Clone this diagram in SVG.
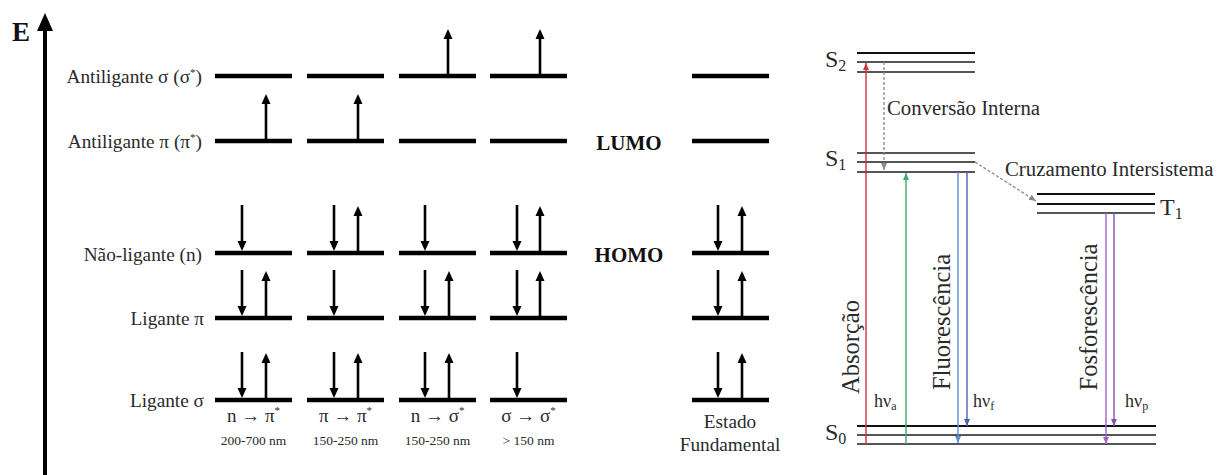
<svg xmlns="http://www.w3.org/2000/svg" xmlns:xlink="http://www.w3.org/1999/xlink" width="1217" height="475" viewBox="0 0 1217 475">
  <style>
    .txt { font-family: "Liberation Serif", "Times New Roman", serif; fill: #2a2a2a; }
    .lbl { font-size: 19.3px; }
    .bold { font-family: "Liberation Serif", "Times New Roman", serif; font-weight: bold; fill: #111; font-size: 21px; }
    .trans { font-size: 19px; }
    .nm { font-size: 13.5px; }
    .state { font-size: 24px; }
    .proc { font-size: 20.8px; }
    .rot { font-size: 24.5px; }
    .hv { font-size: 18px; }
    .lvl { stroke: #000; stroke-width: 4.6; }
    .el { stroke: #000; stroke-width: 2.6; }
    .jl { stroke: #555; stroke-width: 1.8; }
    .jl0 { stroke: #111; stroke-width: 1.8; }
    .tr { fill: none; stroke-width: 1.4; }
    .dash { fill: none; stroke: #888; stroke-width: 1.3; stroke-dasharray: 3 2; }
  </style>
  <defs>
    <!-- electron spin arrows, anchored on the orbital line -->
    <g id="up">
      <line class="el" x1="0" y1="0" x2="0" y2="-38"/>
      <path d="M-4.5,-37 L0,-47 L4.5,-37 Z" fill="#000"/>
    </g>
    <g id="dn">
      <line class="el" x1="0" y1="-48" x2="0" y2="-11"/>
      <path d="M-4.5,-12 L0,-2 L4.5,-12 Z" fill="#000"/>
    </g>
    <marker id="m-red" viewBox="0 0 7 6" refX="7" refY="3" markerWidth="7" markerHeight="6" markerUnits="userSpaceOnUse" orient="auto"><path d="M0,0 L7,3 L0,6 Z" fill="#d2323c"/></marker>
    <marker id="m-green" viewBox="0 0 7 6" refX="7" refY="3" markerWidth="7" markerHeight="6" markerUnits="userSpaceOnUse" orient="auto"><path d="M0,0 L7,3 L0,6 Z" fill="#3aaa6a"/></marker>
    <marker id="m-blue1" viewBox="0 0 7 6" refX="7" refY="3" markerWidth="7" markerHeight="6" markerUnits="userSpaceOnUse" orient="auto"><path d="M0,0 L7,3 L0,6 Z" fill="#5b8ed8"/></marker>
    <marker id="m-blue2" viewBox="0 0 7 6" refX="7" refY="3" markerWidth="7" markerHeight="6" markerUnits="userSpaceOnUse" orient="auto"><path d="M0,0 L7,3 L0,6 Z" fill="#4a60b4"/></marker>
    <marker id="m-pur1" viewBox="0 0 7 6" refX="7" refY="3" markerWidth="7" markerHeight="6" markerUnits="userSpaceOnUse" orient="auto"><path d="M0,0 L7,3 L0,6 Z" fill="#a064c8"/></marker>
    <marker id="m-pur2" viewBox="0 0 7 6" refX="7" refY="3" markerWidth="7" markerHeight="6" markerUnits="userSpaceOnUse" orient="auto"><path d="M0,0 L7,3 L0,6 Z" fill="#8a4eb0"/></marker>
    <marker id="m-gray" viewBox="0 0 7 6" refX="7" refY="3" markerWidth="7" markerHeight="6" markerUnits="userSpaceOnUse" orient="auto"><path d="M0,0 L7,3 L0,6 Z" fill="#888"/></marker>
  </defs>

  <rect width="1217" height="475" fill="#fff"/>

  <!-- energy axis -->
  <g id="energy-axis">
    <line x1="45" y1="475" x2="45" y2="28" stroke="#000" stroke-width="4"/>
    <path d="M37,31 L45,13 L53,31 Z" fill="#000"/>
    <text x="12" y="41" font-family="Liberation Serif, serif" font-weight="bold" font-size="27" fill="#111">E</text>
  </g>

  <!-- orbital labels -->
  <g id="orbital-labels" class="txt lbl" text-anchor="end">
    <text x="202" y="83">Antiligante σ (σ<tspan dy="-7" font-size="11">*</tspan><tspan dy="7">)</tspan></text>
    <text x="202" y="148">Antiligante π (π<tspan dy="-7" font-size="11">*</tspan><tspan dy="7">)</tspan></text>
    <text x="202" y="261">Não-ligante (n)</text>
    <text x="204" y="325">Ligante π</text>
    <text x="204" y="407">Ligante σ</text>
  </g>

  <!-- n → π* -->
  <g id="col-n-pi">
    <line class="lvl" x1="215" y1="76" x2="292" y2="76"/>
    <line class="lvl" x1="215" y1="141" x2="292" y2="141"/>
    <line class="lvl" x1="215" y1="253" x2="292" y2="253"/>
    <line class="lvl" x1="215" y1="318" x2="292" y2="318"/>
    <line class="lvl" x1="215" y1="400" x2="292" y2="400"/>
    <use xlink:href="#up" x="266" y="141"/>
    <use xlink:href="#dn" x="242" y="253"/>
    <use xlink:href="#dn" x="242" y="318"/>
    <use xlink:href="#up" x="266" y="318"/>
    <use xlink:href="#dn" x="242" y="400"/>
    <use xlink:href="#up" x="266" y="400"/>
    <text class="txt trans" x="253.5" y="422" text-anchor="middle">n → π<tspan dy="-8" font-size="11">*</tspan></text>
    <text class="txt nm" x="253.5" y="445" text-anchor="middle">200-700 nm</text>
  </g>

  <!-- π → π* -->
  <g id="col-pi-pi">
    <line class="lvl" x1="307" y1="76" x2="384" y2="76"/>
    <line class="lvl" x1="307" y1="141" x2="384" y2="141"/>
    <line class="lvl" x1="307" y1="253" x2="384" y2="253"/>
    <line class="lvl" x1="307" y1="318" x2="384" y2="318"/>
    <line class="lvl" x1="307" y1="400" x2="384" y2="400"/>
    <use xlink:href="#up" x="358" y="141"/>
    <use xlink:href="#dn" x="334" y="253"/>
    <use xlink:href="#up" x="358" y="253"/>
    <use xlink:href="#dn" x="334" y="318"/>
    <use xlink:href="#dn" x="334" y="400"/>
    <use xlink:href="#up" x="358" y="400"/>
    <text class="txt trans" x="345.5" y="422" text-anchor="middle">π → π<tspan dy="-8" font-size="11">*</tspan></text>
    <text class="txt nm" x="345.5" y="445" text-anchor="middle">150-250 nm</text>
  </g>

  <!-- n → σ* -->
  <g id="col-n-sigma">
    <line class="lvl" x1="399" y1="76" x2="476" y2="76"/>
    <line class="lvl" x1="399" y1="141" x2="476" y2="141"/>
    <line class="lvl" x1="399" y1="253" x2="476" y2="253"/>
    <line class="lvl" x1="399" y1="318" x2="476" y2="318"/>
    <line class="lvl" x1="399" y1="400" x2="476" y2="400"/>
    <use xlink:href="#up" x="448" y="76"/>
    <use xlink:href="#dn" x="425" y="253"/>
    <use xlink:href="#dn" x="425" y="318"/>
    <use xlink:href="#up" x="449" y="318"/>
    <use xlink:href="#dn" x="425" y="400"/>
    <use xlink:href="#up" x="449" y="400"/>
    <text class="txt trans" x="437.5" y="422" text-anchor="middle">n → σ<tspan dy="-8" font-size="11">*</tspan></text>
    <text class="txt nm" x="437.5" y="445" text-anchor="middle">150-250 nm</text>
  </g>

  <!-- σ → σ* -->
  <g id="col-sigma-sigma">
    <line class="lvl" x1="490" y1="76" x2="567" y2="76"/>
    <line class="lvl" x1="490" y1="141" x2="567" y2="141"/>
    <line class="lvl" x1="490" y1="253" x2="567" y2="253"/>
    <line class="lvl" x1="490" y1="318" x2="567" y2="318"/>
    <line class="lvl" x1="490" y1="400" x2="567" y2="400"/>
    <use xlink:href="#up" x="540" y="76"/>
    <use xlink:href="#dn" x="517" y="253"/>
    <use xlink:href="#up" x="540" y="253"/>
    <use xlink:href="#dn" x="517" y="318"/>
    <use xlink:href="#up" x="540" y="318"/>
    <use xlink:href="#dn" x="517" y="400"/>
    <text class="txt trans" x="528.5" y="422" text-anchor="middle">σ → σ<tspan dy="-8" font-size="11">*</tspan></text>
    <text class="txt nm" x="528.5" y="445" text-anchor="middle">&gt; 150 nm</text>
  </g>

  <!-- frontier orbital labels -->
  <g id="frontier-labels" class="bold" text-anchor="middle">
    <text x="629" y="150">LUMO</text>
    <text x="629" y="262">HOMO</text>
  </g>

  <!-- ground state -->
  <g id="col-ground">
    <line class="lvl" x1="692" y1="76" x2="769" y2="76"/>
    <line class="lvl" x1="692" y1="141" x2="769" y2="141"/>
    <line class="lvl" x1="692" y1="253" x2="769" y2="253"/>
    <line class="lvl" x1="692" y1="318" x2="769" y2="318"/>
    <line class="lvl" x1="692" y1="400" x2="769" y2="400"/>
    <use xlink:href="#dn" x="718" y="253"/>
    <use xlink:href="#up" x="742" y="253"/>
    <use xlink:href="#dn" x="718" y="318"/>
    <use xlink:href="#up" x="742" y="318"/>
    <use xlink:href="#dn" x="718" y="400"/>
    <use xlink:href="#up" x="742" y="400"/>
    <text class="txt lbl" x="730" y="428" text-anchor="middle">Estado</text>
    <text class="txt lbl" x="730" y="451" text-anchor="middle">Fundamental</text>
  </g>

  <!-- Jablonski states -->
  <g id="state-S2">
    <line class="jl0" x1="857" y1="53" x2="975" y2="53"/>
    <line class="jl" x1="857" y1="62" x2="975" y2="62"/>
    <line class="jl" x1="857" y1="72" x2="975" y2="72"/>
    <text class="txt state" x="825" y="67">S<tspan dy="4" font-size="16">2</tspan></text>
  </g>
  <g id="state-S1">
    <line class="jl" x1="857" y1="153" x2="975" y2="153"/>
    <line class="jl" x1="857" y1="162" x2="975" y2="162"/>
    <line class="jl" x1="857" y1="172" x2="975" y2="172"/>
    <text class="txt state" x="825" y="166">S<tspan dy="4" font-size="16">1</tspan></text>
  </g>
  <g id="state-T1">
    <line class="jl0" x1="1037" y1="194" x2="1155" y2="194"/>
    <line class="jl0" x1="1037" y1="204" x2="1155" y2="204"/>
    <line class="jl" x1="1037" y1="213" x2="1155" y2="213"/>
    <text class="txt state" x="1160" y="215">T<tspan dy="4" font-size="16">1</tspan></text>
  </g>
  <g id="state-S0">
    <line class="jl0" x1="857" y1="426" x2="1156" y2="426"/>
    <line class="jl" x1="857" y1="435" x2="1156" y2="435"/>
    <line class="jl" x1="857" y1="444" x2="1156" y2="444"/>
    <text class="txt state" x="825" y="440">S<tspan dy="4" font-size="16">0</tspan></text>
  </g>

  <!-- transitions -->
  <g id="connectors">
    <line class="tr" x1="866" y1="444" x2="866" y2="63" stroke="#d2323c" marker-end="url(#m-red)"/>
    <line class="tr" x1="906" y1="444" x2="906" y2="173" stroke="#3aaa6a" marker-end="url(#m-green)"/>
    <line class="tr" x1="958" y1="172" x2="958" y2="443" stroke="#5b8ed8" marker-end="url(#m-blue1)"/>
    <line class="tr" x1="967" y1="172" x2="967" y2="426" stroke="#4a60b4" marker-end="url(#m-blue2)"/>
    <line class="tr" x1="1106" y1="213" x2="1106" y2="444" stroke="#a064c8" marker-end="url(#m-pur1)"/>
    <line class="tr" x1="1114" y1="213" x2="1114" y2="426" stroke="#8a4eb0" marker-end="url(#m-pur2)"/>
    <line class="dash" x1="884" y1="62" x2="884" y2="170" marker-end="url(#m-gray)"/>
    <line class="dash" x1="975" y1="162" x2="1036" y2="201" marker-end="url(#m-gray)"/>
  </g>

  <!-- process labels -->
  <g id="process-labels" class="txt">
    <text class="proc" x="887" y="115">Conversão Interna</text>
    <text class="proc" x="1005" y="176">Cruzamento Intersistema</text>
    <text class="rot" transform="translate(859,347) rotate(-90)" text-anchor="middle">Absorção</text>
    <text class="rot" transform="translate(950,322) rotate(-90)" text-anchor="middle">Fluorescência</text>
    <text class="rot" transform="translate(1097,317) rotate(-90)" text-anchor="middle">Fosforescência</text>
    <text class="hv" x="874" y="407">hν<tspan dy="3" font-size="12">a</tspan></text>
    <text class="hv" x="973" y="407">hν<tspan dy="3" font-size="12">f</tspan></text>
    <text class="hv" x="1125" y="407">hν<tspan dy="3" font-size="12">p</tspan></text>
  </g>
</svg>
